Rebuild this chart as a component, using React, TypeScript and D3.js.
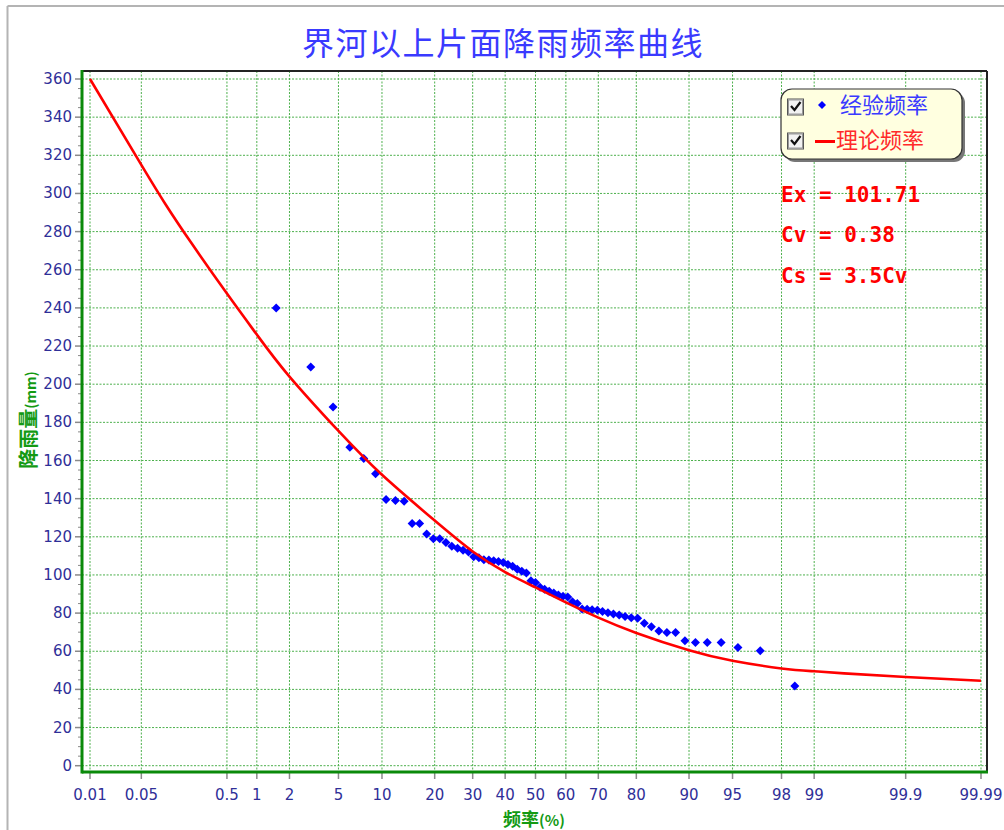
import React from 'react';
import * as d3 from 'd3';

// ---- chart data ----
const titleText = '界河以上片面降雨频率曲线';
const yAxisTitle = '降雨量';
const yAxisUnit = '(mm)';
const xAxisTitle = '频率';
const xAxisUnit = '(%)';
const legendLabels = ['经验频率', '理论频率'];
const statLines = ['Ex = 101.71', 'Cv = 0.38', 'Cs = 3.5Cv'];

const xTickValues = [0.01, 0.05, 0.5, 1, 2, 5, 10, 20, 30, 40, 50, 60, 70, 80, 90, 95, 98, 99, 99.9, 99.99];
const xTickLabels = ['0.01', '0.05', '0.5', '1', '2', '5', '10', '20', '30', '40', '50', '60', '70', '80', '90', '95', '98', '99', '99.9', '99.99'];
const yTickValues = [0, 20, 40, 60, 80, 100, 120, 140, 160, 180, 200, 220, 240, 260, 280, 300, 320, 340, 360];

// empirical frequency (%) of the observed series
const empFreq = [
  1.52, 3.03, 4.55, 6.06, 7.58, 9.09, 10.61, 12.12, 13.64, 15.15,
  16.67, 18.18, 19.7, 21.21, 22.73, 24.24, 25.76, 27.27, 28.79, 30.3,
  31.82, 33.33, 34.85, 36.36, 37.88, 39.39, 40.91, 42.42, 43.94, 45.45,
  46.97, 48.48, 50.0, 51.52, 53.03, 54.55, 56.06, 57.58, 59.09, 60.61,
  62.12, 63.64, 65.15, 66.67, 68.18, 69.7, 71.21, 72.73, 74.24, 75.76,
  77.27, 78.79, 80.3, 81.82, 83.33, 84.85, 86.36, 87.88, 89.39, 90.91,
  92.42, 93.94, 95.45, 96.97, 98.48,
];
// observed rainfall (mm), sorted descending
const empRain = [
  240, 209, 188, 167, 161, 153, 139.5, 139, 138.7, 127,
  127, 121.5, 119, 119, 117, 115, 114, 113, 112, 109.5,
  109, 108, 107.8, 107.5, 107, 106.5, 105.5, 104.5, 103, 102,
  101, 97, 96, 93.5, 92.5, 91.5, 90.5, 89.5, 88.8, 88.5,
  86, 85, 82.2, 82, 81.8, 81.5, 80.8, 80.2, 79.5, 79,
  78.2, 77.6, 77.3, 74.7, 72.9, 70.6, 69.8, 69.8, 65.5, 64.6,
  64.6, 64.6, 62, 60.3, 41.8,
];

// fitted frequency curve
const theoFreq = [0.01, 0.05, 0.1, 0.2, 0.5, 1, 2, 5, 10, 20, 30, 40, 50, 60, 70, 80, 90, 95, 98, 99, 99.5, 99.9, 99.99];
const theoRain = [360, 315, 294.5, 274.5, 247.5, 226, 204, 175.5, 152.5, 128.5, 112.3, 101.5, 93.5, 85.6, 77.6, 69.6, 60.5, 55, 51, 49.5, 48.4, 46.5, 44.5];

// inverse standard normal CDF (Acklam), used for the probability-paper axis
function normInv(p: number): number {
  const a = [-39.69683028665376, 220.9460984245205, -275.9285104469687, 138.357751867269, -30.66479806614716, 2.506628277459239];
  const b = [-54.47609879822406, 161.5858368580409, -155.6989798598866, 66.80131188771972, -13.28068155288572];
  const c = [-0.007784894002430293, -0.3223964580411365, -2.400758277161838, -2.549732539343734, 4.374664141464968, 2.938163982698783];
  const d = [0.007784695709041462, 0.3224671290700398, 2.445134137142996, 3.754408661907416];
  const pl = 0.02425;
  if (p < pl) {
    const q = Math.sqrt(-2 * Math.log(p));
    return (((((c[0] * q + c[1]) * q + c[2]) * q + c[3]) * q + c[4]) * q + c[5]) / ((((d[0] * q + d[1]) * q + d[2]) * q + d[3]) * q + 1);
  }
  if (p > 1 - pl) {
    const q = Math.sqrt(-2 * Math.log(1 - p));
    return -(((((c[0] * q + c[1]) * q + c[2]) * q + c[3]) * q + c[4]) * q + c[5]) / ((((d[0] * q + d[1]) * q + d[2]) * q + d[3]) * q + 1);
  }
  const q = p - 0.5;
  const r = q * q;
  return (((((a[0] * r + a[1]) * r + a[2]) * r + a[3]) * r + a[4]) * r + a[5]) * q / (((((b[0] * r + b[1]) * r + b[2]) * r + b[3]) * r + b[4]) * r + 1);
}

const W = 1004;
const H = 830;
const frame = { left: 82, right: 987, top: 71, bottom: 772 };

const zScale = d3.scaleLinear().domain([normInv(0.0001), normInv(0.9999)]).range([90, 981]);
const xPos = (pct: number) => zScale(normInv(pct / 100));
const yScale = d3.scaleLinear().domain([0, 360]).range([765.7, 79]);

const tickColor = '#2f2f98';
const gridColor = '#3aa83a';
const axisGreen = '#0a8a0a';

export default function App() {
  const curvePts: [number, number][] = theoFreq.map((p, i) => [xPos(p), yScale(theoRain[i])]);
  const curvePath = d3.line().curve(d3.curveNatural)(curvePts) || '';

  const minorY = d3.range(0, 361, 5).filter((v) => v % 20 !== 0);

  const diamond = (cx: number, cy: number, r: number) => `M${cx},${cy - r}L${cx + r},${cy}L${cx},${cy + r}L${cx - r},${cy}Z`;

  return (
    <svg width={W} height={H} style={{ position: 'absolute', left: 0, top: 0, background: '#fff' }}>
      {/* window edge */}
      <line x1={7.5} y1={6} x2={7.5} y2={H} stroke="#b4b4b4" strokeWidth={2} />
      <line x1={7.5} y1={6} x2={W} y2={6} stroke="#b4b4b4" strokeWidth={2} />

      {/* title */}
      <text x={503} y={55} textAnchor="middle" fontFamily="'Noto Sans CJK SC', sans-serif" fontSize={32} letterSpacing={1.5} fill="#3a3aff">
        {titleText}
      </text>

      {/* grid */}
      <g stroke={gridColor} strokeWidth={1} strokeDasharray="2,1.5" opacity={0.9}>
        {xTickValues.map((v) => (
          <line key={'gx' + v} x1={xPos(v)} x2={xPos(v)} y1={frame.top} y2={frame.bottom} />
        ))}
        {yTickValues.map((v) => (
          <line key={'gy' + v} x1={frame.left} x2={frame.right} y1={yScale(v)} y2={yScale(v)} />
        ))}
      </g>

      {/* frame */}
      <line x1={frame.left} x2={frame.right} y1={frame.top} y2={frame.top} stroke="#222" strokeWidth={2} />
      <line x1={frame.right} x2={frame.right} y1={frame.top} y2={frame.bottom} stroke="#222" strokeWidth={2} />

      {/* y ticks */}
      <g stroke="#8a8a8a">
        {yTickValues.map((v) => (
          <line key={'yt' + v} x1={75} x2={frame.left} y1={yScale(v)} y2={yScale(v)} strokeWidth={1.5} />
        ))}
        {minorY.map((v) => (
          <line key={'ym' + v} x1={78} x2={frame.left} y1={yScale(v)} y2={yScale(v)} strokeWidth={1} />
        ))}
      </g>
      {/* x ticks */}
      <g stroke="#8a8a8a" strokeWidth={1.5}>
        {xTickValues.map((v) => (
          <line key={'xt' + v} x1={xPos(v)} x2={xPos(v)} y1={frame.bottom} y2={frame.bottom + 7} />
        ))}
      </g>

      {/* axis lines */}
      <line x1={frame.left} x2={frame.left} y1={frame.top - 1} y2={frame.bottom + 1.5} stroke={axisGreen} strokeWidth={3} />
      <line x1={frame.left} x2={frame.right + 1} y1={frame.bottom} y2={frame.bottom} stroke={axisGreen} strokeWidth={3} />

      {/* tick labels */}
      <g fontFamily="'DejaVu Sans', Verdana, sans-serif" fontSize={15} fill={tickColor}>
        {yTickValues.map((v) => (
          <text key={'yl' + v} x={72} y={yScale(v)} textAnchor="end" dominantBaseline="central">
            {v}
          </text>
        ))}
        {xTickValues.map((v, i) => (
          <text key={'xl' + v} x={xPos(v)} y={800} textAnchor="middle">
            {xTickLabels[i]}
          </text>
        ))}
      </g>

      {/* axis titles */}
      <text
        transform="translate(36,420) rotate(-90)"
        textAnchor="middle"
        fontFamily="'Noto Sans CJK SC', sans-serif"
        fontWeight="bold"
        fill="#139a13"
      >
        <tspan fontSize={20}>{yAxisTitle}</tspan>
        <tspan fontSize={14}>{yAxisUnit}</tspan>
      </text>
      <text x={534} y={826} textAnchor="middle" fontFamily="'Noto Sans CJK SC', sans-serif" fontWeight="bold" fill="#139a13">
        <tspan fontSize={18}>{xAxisTitle}</tspan>
        <tspan fontSize={15}>{xAxisUnit}</tspan>
      </text>

      {/* empirical points */}
      <g fill="#0000ff">
        {empFreq.map((p, i) => (
          <path key={'pt' + i} d={diamond(xPos(p), yScale(empRain[i]), 4.5)} />
        ))}
      </g>

      {/* fitted curve */}
      <path d={curvePath} fill="none" stroke="#ff0000" strokeWidth={2.6} strokeLinejoin="round" />

      {/* legend */}
      <g>
        <rect x={784} y={92} width={181} height={70} rx={11} fill="#777" />
        <rect x={781} y={89} width={181} height={70} rx={11} fill="#ffffe0" stroke="#333" strokeWidth={1.2} />
        {[0, 1].map((k) => {
          const cy = 107 + k * 34;
          return (
            <g key={'cb' + k}>
              <rect x={787.5} y={cy - 8} width={16} height={16} fill="#f2f2f2" stroke="#555" strokeWidth={1} />
              <rect x={788.5} y={cy - 7} width={14} height={14} fill="none" stroke="#999" strokeWidth={1} />
              <path d={`M791,${cy - 1} L794.5,${cy + 3} L800.5,${cy - 5}`} fill="none" stroke="#111" strokeWidth={2.2} />
            </g>
          );
        })}
        <path d={diamond(822, 105, 4)} fill="#0000ff" />
        <line x1={815} x2={835} y1={141.5} y2={141.5} stroke="#ff0000" strokeWidth={3} />
        <text x={840} y={113} fontFamily="'Noto Sans CJK SC', sans-serif" fontSize={22} fill="#3a3aff">
          {legendLabels[0]}
        </text>
        <text x={836} y={148} fontFamily="'Noto Sans CJK SC', sans-serif" fontSize={22} fill="#ff2a2a">
          {legendLabels[1]}
        </text>
      </g>

      {/* fitted parameters */}
      <g fontFamily="'DejaVu Sans Mono', 'Liberation Mono', monospace" fontWeight="bold" fontSize={21} fill="#ff0000">
        {statLines.map((s, i) => (
          <text key={'st' + i} x={781} y={201.5 + i * 40.5} style={{ whiteSpace: 'pre' }}>
            {s}
          </text>
        ))}
      </g>
    </svg>
  );
}
